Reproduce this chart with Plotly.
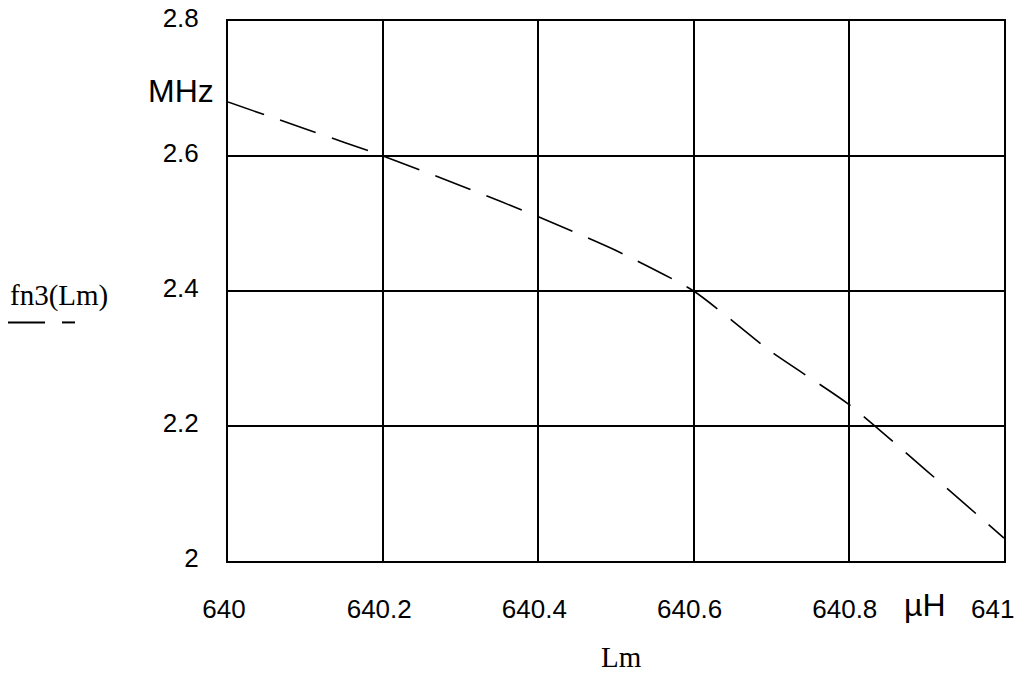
import plotly.graph_objects as go

# Data
lm_values = [640.0, 640.1, 640.2, 640.3, 640.4, 640.5, 640.6, 640.7, 640.8, 640.9, 641.0]
fn3_values = [2.68, 2.64, 2.60, 2.556, 2.51, 2.46, 2.40, 2.31, 2.232, 2.134, 2.034]

x_ticks = [640, 640.2, 640.4, 640.6, 640.8, 641]
x_tick_labels = ["640", "640.2", "640.4", "640.6", "640.8", "641\u00a0\u00a0"]
y_ticks = [2.0, 2.2, 2.4, 2.6, 2.8]
y_tick_labels = ["2", "2.2", "2.4", "2.6", "2.8"]

tick_font = dict(family="Liberation Sans, Arial, sans-serif", size=26, color="black")
unit_font = dict(family="Liberation Sans, Arial, sans-serif", size=32, color="black")
serif_font = dict(family="Liberation Serif, Times New Roman, serif", size=29, color="black")

fig = go.Figure()
fig.add_trace(go.Scatter(
    x=lm_values, y=fn3_values, mode="lines",
    line=dict(color="black", width=1.6, dash="38px,17px", shape="spline", smoothing=0.6),
    showlegend=False, hoverinfo="skip",
))

axis_common = dict(
    showgrid=True, gridcolor="black", gridwidth=2,
    showline=True, linecolor="black", linewidth=2, mirror=True,
    zeroline=False, ticks="", tickfont=tick_font, automargin=False,
    ticklabeloverflow="allow",
)

fig.update_xaxes(range=[640, 641], tickvals=x_ticks, ticktext=x_tick_labels,
                 ticklabelstandoff=24, ticklabelshift=-4, **axis_common)
fig.update_yaxes(range=[2.0, 2.8], tickvals=y_ticks, ticktext=y_tick_labels,
                 ticklabelstandoff=22, ticklabelshift=-3, **axis_common)

fig.update_layout(
    width=1008, height=668,
    margin=dict(l=220, r=12, t=13, b=115, autoexpand=False),
    plot_bgcolor="white", paper_bgcolor="white",
    annotations=[
        dict(text="MHz", x=-0.0155, y=0.8706, xref="paper", yref="paper",
             xanchor="right", yanchor="middle", showarrow=False, font=unit_font),
        dict(text="µH", x=0.898, y=-0.082, xref="paper", yref="paper",
             xanchor="center", yanchor="middle", showarrow=False, font=unit_font),
        dict(text="Lm", x=0.5077, y=-0.1775, xref="paper", yref="paper",
             xanchor="center", yanchor="middle", showarrow=False, font=serif_font),
        dict(text="fn3(Lm)", x=-0.2835, y=0.4917, xref="paper", yref="paper",
             xanchor="left", yanchor="middle", showarrow=False, font=serif_font),
    ],
    shapes=[
        dict(type="line", xref="paper", yref="paper", x0=-0.2874, x1=-0.2358,
             y0=0.4418, y1=0.4418, line=dict(color="black", width=2)),
        dict(type="line", xref="paper", yref="paper", x0=-0.2139, x1=-0.1972,
             y0=0.4418, y1=0.4418, line=dict(color="black", width=2)),
    ],
)

fig.write_html("out.html")
